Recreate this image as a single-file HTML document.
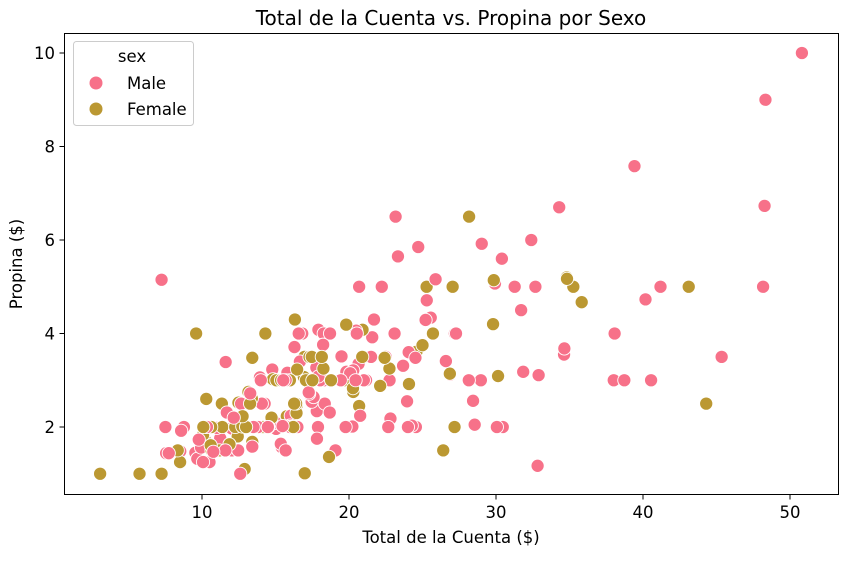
<!DOCTYPE html>
<html><head><meta charset="utf-8"><style>
body{margin:0;background:#fff;}
svg text{font-family:"DejaVu Sans","Liberation Sans",sans-serif;fill:#000;}
</style></head><body>
<svg id="chart" width="849" height="556" xmlns="http://www.w3.org/2000/svg">
<text x="451" y="25" font-size="20" text-anchor="middle">Total de la Cuenta vs. Propina por Sexo</text>
<g id="points"></g>
<rect x="64.5" y="33.5" width="774" height="461" fill="none" stroke="#000" stroke-width="1"/>
<g id="xticks"></g>
<g id="yticks"></g>
<text x="451" y="543" font-size="16.5" text-anchor="middle">Total de la Cuenta ($)</text>
<text transform="translate(22,264) rotate(-90)" font-size="16.5" text-anchor="middle">Propina ($)</text>
<g>
<rect x="73.5" y="41.5" width="120" height="84" rx="3" fill="#fff" fill-opacity="0.8" stroke="#ccc"/>
<text x="132" y="62" font-size="16.5" text-anchor="middle">sex</text>
<g><circle cx="96" cy="83" r="6.5" fill="#f77189"/><text x="127" y="89" font-size="16.5">Male</text></g>
<g><circle cx="96" cy="109" r="6.5" fill="#bb9832"/><text x="127" y="115" font-size="16.5">Female</text></g>
</g>
</svg>
<script>
const bills=[16.99,10.34,21.01,23.68,24.59,25.29,8.77,26.88,15.04,14.78,10.27,35.26,15.42,18.43,14.83,21.58,10.33,16.29,16.97,20.65,17.92,20.29,15.77,39.42,19.82,17.81,13.37,12.69,21.7,19.65,9.55,18.35,15.06,20.69,17.78,24.06,16.31,16.93,18.69,31.27,16.04,17.46,13.94,9.68,30.4,18.29,22.23,32.4,28.55,18.04,12.54,10.29,34.81,9.94,25.56,19.49,38.01,26.41,11.24,48.27,20.29,13.81,11.02,18.29,17.59,20.08,16.45,3.07,20.23,15.01,12.02,17.07,26.86,25.28,14.73,10.51,17.92,27.2,22.76,17.29,19.44,16.66,10.07,32.68,15.98,34.83,13.03,18.28,24.71,21.16,28.97,22.49,5.75,16.32,22.75,40.17,27.28,12.03,21.01,12.46,11.35,15.38,44.3,22.42,20.92,15.36,20.49,25.21,18.24,14.31,14.0,7.25,38.07,23.95,25.71,17.31,29.93,10.65,12.43,24.08,11.69,13.42,14.26,15.95,12.48,29.8,8.52,14.52,11.38,22.82,19.08,20.27,11.17,12.26,18.26,8.51,10.33,14.15,16.0,13.16,17.47,34.3,41.19,27.05,16.43,8.35,18.64,11.87,9.78,7.51,14.07,13.13,17.26,24.55,19.77,29.85,48.17,25.0,13.39,16.49,21.5,12.66,16.21,13.81,17.51,24.52,20.76,31.71,10.59,10.63,50.81,15.81,7.25,31.85,16.82,32.9,17.89,14.48,9.6,34.63,34.65,23.33,45.35,23.17,40.55,20.69,20.9,30.46,18.15,23.1,15.69,19.81,28.44,15.48,16.58,7.56,10.34,43.11,13.0,13.51,18.71,12.74,13.0,16.4,20.53,16.47,26.59,38.73,24.27,12.76,30.06,25.89,48.33,13.27,28.17,12.9,28.15,11.59,7.74,30.14,12.16,13.42,8.58,15.98,13.42,16.27,10.09,20.45,13.28,22.12,24.01,15.69,11.61,10.77,15.53,10.07,12.6,32.83,35.83,29.03,27.18,22.67,17.82,18.78];
const tips=[1.01,1.66,3.5,3.31,3.61,4.71,2.0,3.12,1.96,3.23,1.71,5.0,1.57,3.0,3.02,3.92,1.67,3.71,3.5,3.35,4.08,2.75,2.23,7.58,3.18,2.34,2.0,2.0,4.3,3.0,1.45,2.5,3.0,2.45,3.27,3.6,2.0,3.07,2.31,5.0,2.24,2.54,3.06,1.32,5.6,3.0,5.0,6.0,2.05,3.0,2.5,2.6,5.2,1.56,4.34,3.51,3.0,1.5,1.76,6.73,3.21,2.0,1.98,3.76,2.64,3.15,2.47,1.0,2.01,2.09,1.97,3.0,3.14,5.0,2.2,1.25,3.08,4.0,3.0,2.71,3.0,3.4,1.83,5.0,2.03,5.17,2.0,4.0,5.85,3.0,3.0,3.5,1.0,4.3,3.25,4.73,4.0,1.5,3.0,1.5,2.5,3.0,2.5,3.48,4.08,1.64,4.06,4.29,3.76,4.0,3.0,1.0,4.0,2.55,4.0,3.5,5.07,1.5,1.8,2.92,2.31,1.68,2.5,2.0,2.52,4.2,1.48,2.0,2.0,2.18,1.5,2.83,1.5,2.0,3.25,1.25,2.0,2.0,2.0,2.75,3.5,6.7,5.0,5.0,2.3,1.5,1.36,1.63,1.73,2.0,2.5,2.0,2.74,2.0,2.0,5.14,5.0,3.75,2.61,2.0,3.5,2.5,2.0,2.0,3.0,3.48,2.24,4.5,1.61,2.0,10.0,3.16,5.15,3.18,4.0,3.11,2.0,2.0,4.0,3.55,3.68,5.65,3.5,6.5,3.0,5.0,3.5,2.0,3.5,4.0,1.5,4.19,2.56,2.02,4.0,1.44,2.0,5.0,2.0,2.0,4.0,2.01,2.0,2.5,4.0,3.23,3.41,3.0,2.03,2.23,2.0,5.16,9.0,2.5,6.5,1.1,3.0,1.5,1.44,3.09,2.2,3.48,1.92,3.0,1.58,2.5,2.0,3.0,2.72,2.88,2.0,3.0,3.39,1.47,3.0,1.25,1.0,1.17,4.67,5.92,2.0,2.0,1.75,3.0];
const sexes=("FMMMFMMMMM"+"MFMMFMFMFM"+"MFFMMMMMMF"+"MMFFMMMFMM"+"MMMMMMMMMM"+"MFFMMMMFMM"+"MMMMMMFFMM"+"MFFFFMMMMM"+"MMFMMFMMMM"+"MMFFFMMMMM"+"FFFFFMMMMF"+"MFMMFFMFFF"+"MFMMFFMFFM"+"MFFFFFFFMF"+"FMMFFFFFMM"+"MMMMMFMFFM"+"MMFMFMMMFF"+"MMMMMMMMFM"+"MMMMMMFMFM"+"MFMMMMMFFM"+"MFFFMFMMMF"+"MMMFFFMMMF"+"MFMFMFFMMF"+"MMMMMMMMFM"+"FMMF").split("");
const xTicks=[10,20,30,40,50];
const yTicks=[2,4,6,8,10];
const colors={M:"#f77189",F:"#bb9832"};
const NS="http://www.w3.org/2000/svg";
function xs(v){return 55+v*14.7;}
function ys(v){return 520.5-v*46.75;}
const pg=document.getElementById("points");
for(let i=0;i<bills.length;i++){
  const c=document.createElementNS(NS,"circle");
  c.setAttribute("cx",xs(bills[i]));c.setAttribute("cy",ys(tips[i]));
  c.setAttribute("r",6.6);c.setAttribute("fill",colors[sexes[i]]);
  c.setAttribute("stroke","#fff");c.setAttribute("stroke-width",0.9);
  
  
  pg.appendChild(c);
}
const xg=document.getElementById("xticks");
xTicks.forEach(t=>{
  const l=document.createElementNS(NS,"line");
  l.setAttribute("x1",xs(t));l.setAttribute("x2",xs(t));l.setAttribute("y1",494.5);l.setAttribute("y2",499.5);l.setAttribute("stroke","#000");
  
  
  xg.appendChild(l);
  const tx=document.createElementNS(NS,"text");
  tx.setAttribute("x",xs(t));tx.setAttribute("y",518);tx.setAttribute("font-size",16.5);tx.setAttribute("text-anchor","middle");
  tx.textContent=t;
  
  
  xg.appendChild(tx);
});
const yg=document.getElementById("yticks");
yTicks.forEach(t=>{
  const l=document.createElementNS(NS,"line");
  l.setAttribute("x1",59.5);l.setAttribute("x2",64.5);l.setAttribute("y1",ys(t));l.setAttribute("y2",ys(t));l.setAttribute("stroke","#000");
  
  
  yg.appendChild(l);
  const tx=document.createElementNS(NS,"text");
  tx.setAttribute("x",55);tx.setAttribute("y",ys(t)+6);tx.setAttribute("font-size",16.5);tx.setAttribute("text-anchor","end");
  tx.textContent=t;
  
  
  yg.appendChild(tx);
});
</script>
</body></html>
